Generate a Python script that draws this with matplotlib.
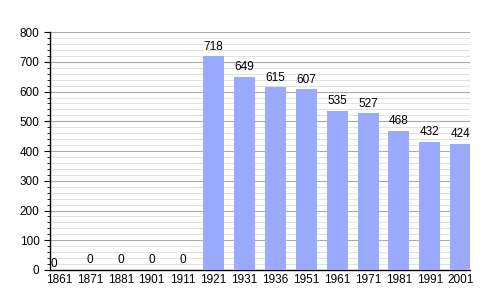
import matplotlib.pyplot as plt
from matplotlib.ticker import MultipleLocator

plt.rcParams['font.family'] = ['Liberation Sans', 'DejaVu Sans']

years = ["1861", "1871", "1881", "1901", "1911", "1921", "1931",
         "1936", "1951", "1961", "1971", "1981", "1991", "2001"]
population = [0, 0, 0, 0, 0, 718, 649, 615, 607, 535, 527, 468, 432, 424]

fig = plt.figure(figsize=(5, 3), dpi=100)
ax = fig.add_axes([0.1, 0.1, 0.84, 0.793])

x = list(range(len(years)))
ax.bar(x, population, width=0.68, color="#99aaff", zorder=3)

for i, v in enumerate(population):
    if i == 0:
        ax.text(-0.27, v, str(v), ha="left", va="bottom", fontsize=8.5, zorder=4)
    else:
        ax.text(i, v + 12, str(v), ha="center", va="bottom", fontsize=8.5, zorder=4)

ax.set_xlim(-0.29, 13.3)
ax.set_ylim(0, 800)
ax.set_xticks(x)
ax.set_xticklabels(years, fontsize=8.5)
ax.yaxis.set_major_locator(MultipleLocator(100))
ax.yaxis.set_minor_locator(MultipleLocator(20))
ax.tick_params(axis="y", labelsize=8.5, length=4, width=0.8)
ax.tick_params(axis="y", which="minor", length=2.5, width=0.6)
ax.tick_params(axis="x", length=0, pad=3)

ax.grid(axis="y", which="major", color="#aaaaaa", linewidth=0.8, zorder=1)
ax.grid(axis="y", which="minor", color="#e2e2e2", linewidth=0.7, zorder=1)

for s in ["top", "right"]:
    ax.spines[s].set_visible(False)
ax.spines["left"].set_linewidth(1)
ax.spines["bottom"].set_linewidth(1)

fig.savefig("out.png", dpi=100)
